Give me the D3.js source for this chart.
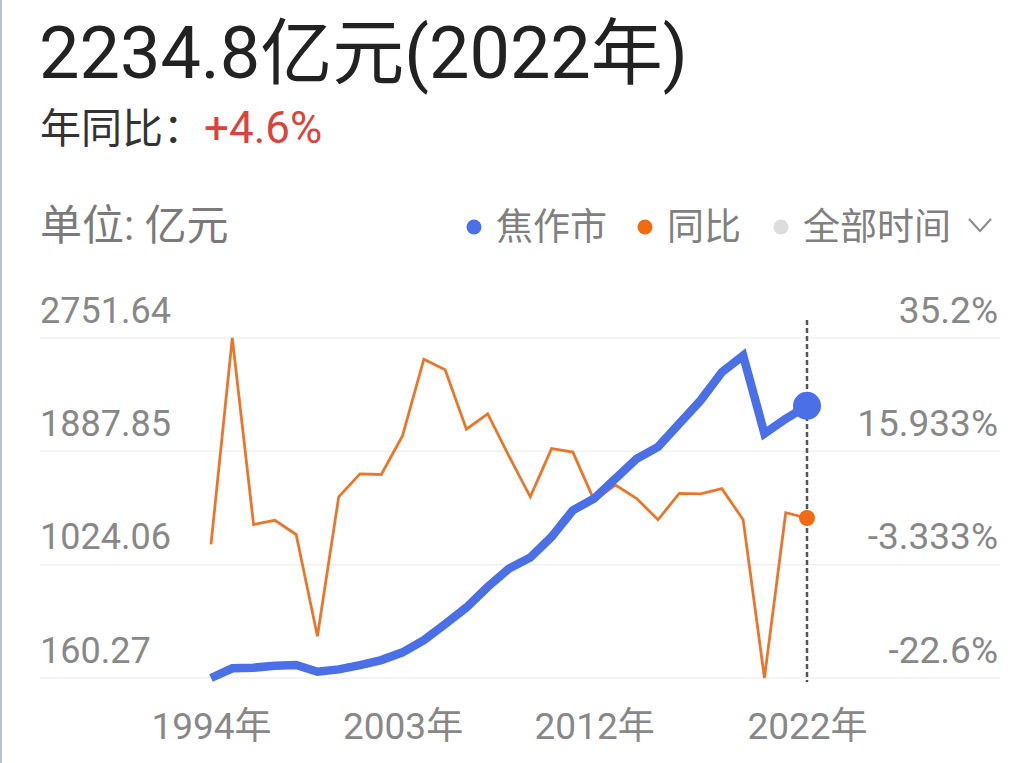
<!DOCTYPE html>
<html><head><meta charset="utf-8">
<script src="https://cdn.jsdelivr.net/npm/d3@7"></script>
<style>
html,body{margin:0;padding:0;background:#fff;}
svg{display:block;font-family:Roboto,"Noto Sans CJK SC",sans-serif;}
</style></head>
<body>
<script>
const years = [1994,1995,1996,1997,1998,1999,2000,2001,2002,2003,2004,2005,2006,2007,2008,2009,2010,2011,2012,2013,2014,2015,2016,2017,2018,2019,2020,2021,2022];
const gdp = [160.27,234,239,254,259,208,226,259,297,356,449,571,698,855,995,1079,1236,1439,1528,1680,1832,1921,2099,2276,2491,2618,2023,2136,2234.8];
const yoy = [0.1,35.2,3.5,4.2,1.8,-15.5,8.2,12.1,12.0,18.6,31.6,29.8,19.7,22.3,15.1,8.2,16.4,15.8,7.6,10.2,7.9,4.3,8.8,8.7,9.6,4.3,-22.6,5.5,4.6];
const leftTicks = [160.27,1024.06,1887.85,2751.64];
const leftTickLabels = ["160.27","1024.06","1887.85","2751.64"];
const rightTicks = [-22.6,-3.333,15.933,35.2];
const rightTickLabels = ["-22.6%","-3.333%","15.933%","35.2%"];
const xTickYears = [1994,2003,2012,2022];
const xTickLabels = ["1994年","2003年","2012年","2022年"];
const legendItems = ["焦作市","同比","全部时间"];

const W=1033,H=763;
const FF='Roboto,"Noto Sans CJK SC",sans-serif';
const svg=d3.select("body").append("svg").attr("width",W).attr("height",H);

// left border
svg.append("rect").attr("x",0).attr("y",0).attr("width",2).attr("height",H).attr("fill","#b9c3cb");

// header
svg.append("text").attr("x",39).attr("y",78).attr("font-size",72).attr("fill","#222")
  .text("2234.8亿元(2022年)");
const sub=svg.append("text").attr("x",40).attr("y",143).attr("font-size",41).attr("fill","#333");
sub.append("tspan").text("年同比：");
sub.append("tspan").attr("fill","#d9443c").attr("font-size",44).text("+4.6%");

svg.append("text").attr("x",40).attr("y",240).attr("font-size",42).attr("fill","#7a7a7a").text("单位: 亿元");

// legend
const legColors=["#4a6fe6","#f26b12","#dddddd"];
const legDotX=[474,645,781];
legendItems.forEach((t,i)=>{
  svg.append("circle").attr("cx",legDotX[i]).attr("cy",227).attr("r",7.5).attr("fill",legColors[i]);
  svg.append("text").attr("x",legDotX[i]+22).attr("y",240).attr("font-size",37).attr("fill","#808080").text(t);
});
svg.append("path").attr("d","M969,219 L980,231 L991,219").attr("fill","none").attr("stroke","#8a8a8a").attr("stroke-width",2);

// scales
const x=d3.scaleLinear().domain([1994,2022]).range([211,807]);
const yL=d3.scaleLinear().domain([160.27,2751.64]).range([678,338]);
const yR=d3.scaleLinear().domain([-22.6,35.2]).range([678,338]);

// grid
svg.append("g").selectAll("line").data(leftTicks).join("line")
  .attr("x1",40).attr("x2",1000).attr("y1",d=>yL(d)).attr("y2",d=>yL(d))
  .attr("stroke","#f0f0f0").attr("stroke-width",1.5);

// axes
const axL=svg.append("g").attr("transform","translate(40,0)")
  .call(d3.axisRight(yL).tickValues(leftTicks).tickFormat((d,i)=>leftTickLabels[i]).tickSize(0).tickPadding(0));
axL.select(".domain").remove();
axL.selectAll("text").attr("font-size",36).attr("fill","#888").attr("font-family",FF)
  .attr("dy",-16).attr("text-anchor","start");

const axR=svg.append("g").attr("transform","translate(998,0)")
  .call(d3.axisLeft(yR).tickValues(rightTicks).tickFormat((d,i)=>rightTickLabels[i]).tickSize(0).tickPadding(0));
axR.select(".domain").remove();
axR.selectAll("text").attr("font-size",37).attr("fill","#888").attr("font-family",FF)
  .attr("dy",-16).attr("text-anchor","end");

const axB=svg.append("g").attr("transform","translate(0,739)")
  .call(d3.axisBottom(x).tickValues(xTickYears).tickFormat((d,i)=>xTickLabels[i]).tickSize(0).tickPadding(0));
axB.select(".domain").remove();
axB.selectAll("text").attr("font-size",37).attr("fill","#888").attr("font-family",FF)
  .attr("dy",0).attr("y",0);

// dashed line
svg.append("line").attr("x1",x(2022)).attr("x2",x(2022)).attr("y1",320).attr("y2",682)
  .attr("stroke","#555").attr("stroke-width",2.5).attr("stroke-dasharray","5,3");

// lines
const lineYoy=d3.line().x((d,i)=>x(years[i])).y(d=>yR(d));
svg.append("path").attr("d",lineYoy(yoy)).attr("fill","none").attr("stroke","#e8772e").attr("stroke-width",2.8).attr("stroke-linejoin","miter");
const lineGdp=d3.line().x((d,i)=>x(years[i])).y(d=>yL(d));
svg.append("path").attr("d",lineGdp(gdp)).attr("fill","none").attr("stroke","#4a6fe6").attr("stroke-width",8.5).attr("stroke-linejoin","miter");

// end markers
const li=years.length-1;
svg.append("circle").attr("cx",x(years[li])).attr("cy",yL(gdp[li])).attr("r",14).attr("fill","#4a6fe6");
svg.append("circle").attr("cx",x(years[li])).attr("cy",yR(yoy[li])).attr("r",8).attr("fill","#f26b12");
</script>
</body></html>
